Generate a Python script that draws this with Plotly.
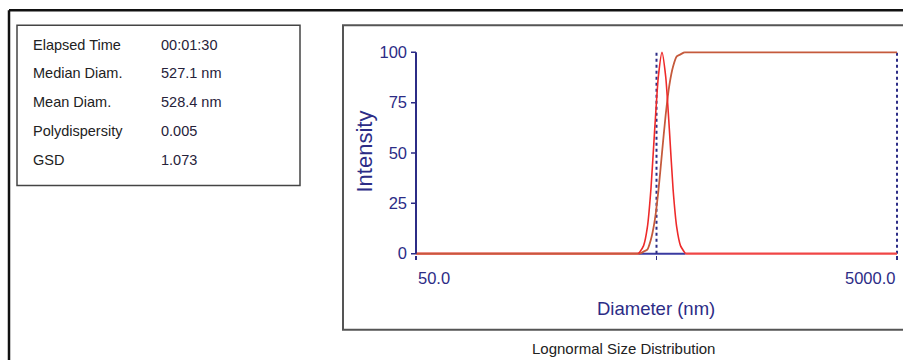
import math
import plotly.graph_objects as go

# Measurement summary
stat_names = ["Elapsed Time", "Median Diam.", "Mean Diam.", "Polydispersity", "GSD"]
stat_values = ["00:01:30", "527.1 nm", "528.4 nm", "0.005", "1.073"]

# Lognormal intensity distribution (diameter in nm, intensity %)
dist_diameter = [50, 420, 427, 442, 458, 474, 491, 509, 527, 546, 566, 586, 607, 629, 651, 660, 5000]
dist_intensity = [0, 0, 1, 4, 13, 32, 61, 88, 100, 88, 61, 32, 13, 4, 1, 0, 0]

# Cumulative distribution
cum_diameter = [50, 427, 442, 458, 474, 491, 509, 527, 546, 566, 586, 607, 629, 651, 5000]
cum_intensity = [0, 0, 1, 2, 7, 16, 31, 50, 69, 84, 93, 98, 99, 100, 100]

# Cursor positions (nm)
cursor_diameter = [500, 5000]

# Axis
x_range = [50, 5000]
x_tick_labels = ["50.0", "5000.0"]
y_ticks = [0, 25, 50, 75, 100]

W, H = 903, 360
NAVY = "#2c2c86"
FONT = "Liberation Sans, Arial, sans-serif"

# page offset/scale of the rendered figure in the vertical direction
V_OFF, V_SCALE = 7.7, 0.957

# plot area in page pixels (x: 50 -> 5000, y: 100 -> 0)
X_LEFT, X_RIGHT = 416, 897
Y_TOP, Y_BOT = 52, 253
PAD_X, PAD_Y = 2.0, 1.5   # small padding so edge lines are not clipped


def px(x):
    return x / W


def py(y):
    return 1 - ((y - V_OFF) / V_SCALE) / H


lx0, lx1 = math.log10(x_range[0]), math.log10(x_range[1])
ppd_x = (X_RIGHT - X_LEFT) / (lx1 - lx0)
ppu_y = (Y_BOT - Y_TOP) / 100.0
x_pad = PAD_X / ppd_x
y_pad = PAD_Y / ppu_y

fig = go.Figure()

# blue base segment under the peak
fig.add_trace(go.Scatter(x=[dist_diameter[1], dist_diameter[-2]], y=[0, 0], mode="lines",
                         line=dict(color="#3a3aa0", width=2), hoverinfo="skip"))

for d in cursor_diameter:
    fig.add_trace(go.Scatter(x=[d, d], y=[0, 100], mode="lines",
                             line=dict(color=NAVY, width=2, dash="dot"), hoverinfo="skip"))

# flat zero parts of the distribution
fig.add_trace(go.Scatter(x=dist_diameter[:2], y=dist_intensity[:2], mode="lines",
                         line=dict(color="#f04646", width=2.2), hoverinfo="skip"))
fig.add_trace(go.Scatter(x=dist_diameter[-2:], y=dist_intensity[-2:], mode="lines",
                         line=dict(color="#f04646", width=2.2), hoverinfo="skip"))

# cumulative: flat ends straight, rising part smoothed
CUM_COLOR = "#c55a3c"
fig.add_trace(go.Scatter(x=cum_diameter[:2], y=cum_intensity[:2], mode="lines",
                         line=dict(color=CUM_COLOR, width=1.8), hoverinfo="skip"))
fig.add_trace(go.Scatter(x=cum_diameter[1:-1], y=cum_intensity[1:-1], mode="lines",
                         line_shape="spline",
                         line=dict(color=CUM_COLOR, width=1.8, smoothing=0.6), hoverinfo="skip"))
fig.add_trace(go.Scatter(x=cum_diameter[-2:], y=cum_intensity[-2:], mode="lines",
                         line=dict(color=CUM_COLOR, width=1.8), hoverinfo="skip"))

# distribution peak
fig.add_trace(go.Scatter(x=dist_diameter[1:-1], y=dist_intensity[1:-1], mode="lines",
                         line_shape="spline",
                         line=dict(color="#ee2a2a", width=1.6, smoothing=0.6), hoverinfo="skip"))

# y axis line drawn exactly from 0 to 100
fig.add_trace(go.Scatter(x=[x_range[0], x_range[0]], y=[0, 100], mode="lines",
                         line=dict(color=NAVY, width=2), hoverinfo="skip"))

shapes = [
    # outer frame
    dict(type="line", xref="paper", yref="paper", x0=px(9), x1=px(905), y0=py(10), y1=py(10),
         line=dict(color="#111111", width=2.5)),
    dict(type="line", xref="paper", yref="paper", x0=px(9), x1=px(9), y0=py(10), y1=py(372),
         line=dict(color="#111111", width=2.5)),
    # summary box
    dict(type="rect", xref="paper", yref="paper", x0=px(17), x1=px(300), y0=py(25), y1=py(185),
         line=dict(color="#444444", width=1.5)),
    # chart panel
    dict(type="rect", xref="paper", yref="paper", x0=px(343), x1=px(910), y0=py(25), y1=py(329),
         line=dict(color="#555555", width=2)),
]

annotations = []
row_y = [45, 73, 102, 131, 159]
for name, val, yy in zip(stat_names, stat_values, row_y):
    annotations.append(dict(x=px(31), y=py(yy), xref="paper", yref="paper", text=name,
                            showarrow=False, xanchor="left", yanchor="middle",
                            font=dict(family=FONT, size=14.5, color="#222222")))
    annotations.append(dict(x=px(159), y=py(yy), xref="paper", yref="paper", text=val,
                            showarrow=False, xanchor="left", yanchor="middle",
                            font=dict(family=FONT, size=14.5, color="#26223a")))

annotations.append(dict(x=lx0, y=py(277), xref="x", yref="paper",
                        text=x_tick_labels[0], showarrow=False, xanchor="left", yanchor="middle",
                        font=dict(family=FONT, size=16.5, color=NAVY)))
annotations.append(dict(x=lx1, y=py(277), xref="x", yref="paper",
                        text=x_tick_labels[1], showarrow=False, xanchor="right", yanchor="middle",
                        font=dict(family=FONT, size=16.5, color=NAVY)))
annotations.append(dict(x=px(656), y=py(308), xref="paper", yref="paper", text="Diameter (nm)",
                        showarrow=False, xanchor="center", yanchor="middle",
                        font=dict(family=FONT, size=18.5, color=NAVY)))
annotations.append(dict(x=px(364), y=py(151), xref="paper", yref="paper", text="Intensity",
                        showarrow=False, xanchor="center", yanchor="middle", textangle=-90,
                        font=dict(family=FONT, size=22, color=NAVY)))
annotations.append(dict(x=px(623), y=py(348), xref="paper", yref="paper",
                        text="Lognormal Size Distribution", showarrow=False,
                        xanchor="center", yanchor="middle",
                        font=dict(family=FONT, size=15, color="#222222")))

fig.update_layout(
    width=W, height=H, autosize=False,
    margin=dict(l=0, r=0, t=0, b=0),
    paper_bgcolor="white", plot_bgcolor="white",
    showlegend=False,
    shapes=shapes, annotations=annotations,
    xaxis=dict(type="log", range=[lx0 - x_pad, lx1 + x_pad],
               domain=[px(X_LEFT - PAD_X), px(X_RIGHT + PAD_X)],
               showgrid=False, zeroline=False, showline=False,
               tickvals=[x_range[0], cursor_diameter[0], x_range[1]], ticktext=["", "", ""],
               ticks="outside", ticklen=4, tickwidth=1.5, tickcolor=NAVY),
    yaxis=dict(range=[-y_pad, 100 + y_pad],
               domain=[py(Y_BOT + PAD_Y), py(Y_TOP - PAD_Y)],
               showgrid=False, zeroline=False, showline=False,
               tickvals=y_ticks, ticks="", ticklen=0,
               ticklabelstandoff=6,
               tickfont=dict(family=FONT, size=16.5, color=NAVY)),
)

# short y tick marks to the left of the axis
for t in y_ticks:
    fig.add_shape(type="line", xref="paper", yref="y",
                  x0=px(X_LEFT - 5), x1=px(X_LEFT), y0=t, y1=t,
                  line=dict(color=NAVY, width=1.5))

fig.write_html("out.html", config={"displayModeBar": False, "staticPlot": True})
